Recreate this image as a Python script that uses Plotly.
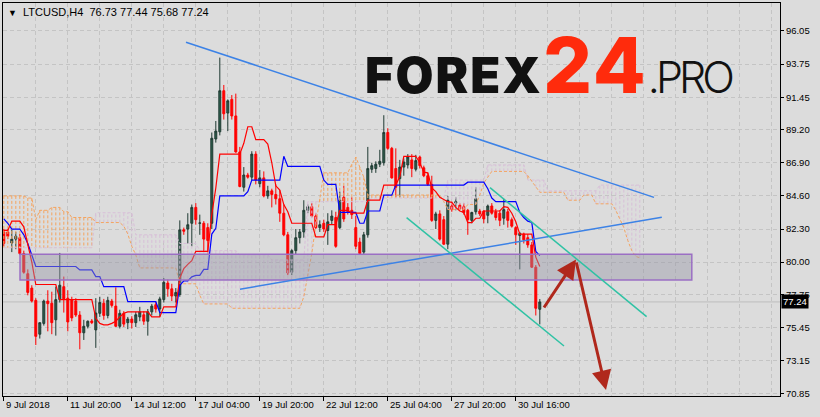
import plotly.graph_objects as go

# ---------------- data ----------------
bar_idx = list(range(135))
open_ = [82.10, 82.10, 81.33, 81.60, 81.70, 80.60, 79.20, 78.20, 77.35, 75.00,
         75.75, 77.30, 77.15, 76.00, 77.40, 78.30, 77.50, 77.40, 77.30, 76.33,
         75.10, 75.55, 75.92, 75.30, 76.45, 77.15, 76.30, 77.30, 76.95, 75.55,
         76.45, 75.80, 76.05, 75.80, 76.20, 76.35, 75.90, 76.55, 77.05, 76.75,
         77.40, 78.55, 78.15, 77.65, 77.75, 82.25, 82.30, 82.70, 83.80, 82.70,
         82.70, 82.40, 82.70, 88.55, 89.05, 91.90, 90.35, 91.30, 90.15, 87.65,
         85.20, 86.05, 85.90, 87.50, 85.45, 85.85, 84.60, 84.95, 84.70, 84.40,
         83.40, 81.90, 79.30, 80.80, 81.70, 82.10, 83.60, 83.85, 83.20, 82.40,
         82.70, 82.20, 82.90, 83.10, 82.40, 84.50, 83.80, 83.60, 82.40, 81.40,
         80.70, 81.90, 86.45, 86.50, 86.80, 86.90, 89.00, 87.90, 86.50, 85.80,
         86.60, 86.75, 87.10, 86.45, 87.30, 86.55, 86.00, 85.40, 82.90, 83.35,
         82.95, 81.25, 83.90, 84.10, 83.95, 83.85, 83.60, 82.90, 83.50, 83.55,
         83.55, 83.25, 83.90, 83.50, 83.40, 83.05, 83.50, 82.95, 82.40, 81.85,
         81.95, 81.70, 81.20, 79.65, 76.73]
high = [82.30, 82.30, 82.24, 82.10, 81.95, 80.80, 79.50, 78.40, 77.50, 75.80,
        77.40, 78.05, 77.95, 78.30, 80.64, 79.00, 78.05, 77.60, 77.50, 76.60,
        76.00, 75.95, 76.05, 77.50, 77.60, 77.45, 77.60, 77.45, 78.25, 76.70,
        76.60, 76.20, 76.25, 76.55, 76.90, 76.60, 76.75, 77.10, 77.25, 77.60,
        78.90, 78.80, 78.50, 78.20, 82.90, 82.40, 83.40, 84.00, 84.10, 83.30,
        82.85, 82.70, 89.00, 89.80, 94.20, 92.30, 91.30, 91.60, 91.70, 88.00,
        86.60, 86.20, 87.70, 87.70, 86.40, 86.30, 85.30, 85.10, 85.40, 85.00,
        84.00, 82.10, 80.90, 82.30, 82.30, 84.30, 84.00, 84.10, 83.40, 82.90,
        82.95, 83.40, 83.60, 83.50, 84.90, 85.30, 84.10, 84.50, 83.20, 81.70,
        82.10, 88.00, 86.90, 87.00, 87.80, 90.20, 89.30, 88.00, 87.90, 87.10,
        87.20, 87.50, 87.50, 87.45, 87.40, 86.70, 86.20, 86.00, 83.50, 83.60,
        83.20, 84.60, 84.20, 84.50, 84.10, 84.10, 83.70, 83.50, 85.20, 83.70,
        83.60, 84.00, 84.10, 83.70, 83.60, 84.40, 83.70, 83.10, 82.50, 82.10,
        82.05, 81.95, 81.40, 79.80, 77.44]
low = [81.10, 81.60, 80.70, 80.90, 80.50, 79.20, 77.70, 77.20, 74.25, 74.70,
       75.60, 75.20, 75.00, 74.90, 77.20, 76.50, 75.20, 75.90, 76.20, 73.95,
       74.60, 75.40, 75.70, 74.05, 76.20, 76.00, 76.10, 76.85, 75.50, 75.40,
       75.50, 75.35, 75.40, 75.50, 75.90, 75.65, 74.90, 76.30, 76.50, 76.20,
       77.20, 77.60, 77.30, 77.20, 77.60, 81.90, 81.30, 81.10, 82.60, 81.90,
       80.70, 80.50, 82.30, 88.30, 88.80, 89.90, 89.10, 89.90, 87.60, 85.20,
       84.90, 85.80, 85.70, 85.40, 85.20, 84.50, 84.40, 83.80, 84.00, 82.80,
       81.80, 79.10, 79.10, 80.50, 81.30, 81.70, 83.40, 83.10, 82.30, 82.10,
       82.10, 81.20, 82.60, 81.00, 82.30, 82.80, 83.30, 83.00, 80.90, 80.50,
       80.50, 81.70, 86.20, 86.20, 86.60, 86.70, 87.80, 85.80, 84.50, 84.50,
       86.00, 86.50, 85.90, 86.30, 86.50, 85.90, 85.30, 82.80, 82.30, 81.50,
       81.20, 80.90, 83.50, 83.60, 83.60, 83.30, 81.90, 82.70, 83.30, 83.20,
       82.70, 82.70, 83.30, 82.90, 82.50, 82.60, 82.40, 82.40, 81.20, 79.50,
       81.30, 81.00, 79.60, 76.30, 75.68]
close = [81.30, 81.80, 81.60, 81.80, 80.60, 79.30, 77.90, 77.30, 74.85, 75.80,
         77.30, 77.12, 75.80, 77.40, 78.40, 77.45, 75.85, 76.13, 76.33, 75.10,
         75.55, 75.90, 75.80, 76.47, 77.20, 76.30, 77.35, 77.00, 75.55, 76.45,
         75.70, 76.05, 75.80, 76.35, 76.55, 75.90, 76.55, 76.95, 76.75, 77.45,
         78.60, 78.15, 77.65, 77.90, 82.24, 82.15, 82.60, 83.80, 82.95, 82.72,
         81.60, 81.50, 88.60, 89.10, 91.90, 90.30, 91.20, 90.15, 87.65, 85.25,
         86.05, 85.90, 87.50, 85.70, 85.85, 84.60, 84.95, 84.70, 84.40, 83.40,
         81.90, 79.25, 80.80, 81.70, 82.10, 83.60, 83.85, 83.20, 82.40, 82.60,
         82.30, 82.80, 83.20, 81.10, 84.30, 83.00, 83.50, 83.30, 81.10, 80.60,
         81.90, 86.50, 86.70, 86.80, 87.00, 89.00, 87.90, 85.85, 85.20, 86.60,
         86.95, 87.30, 86.50, 87.05, 86.70, 86.00, 85.40, 82.90, 83.35, 81.60,
         81.25, 84.30, 83.65, 84.20, 83.70, 83.45, 82.95, 83.45, 84.40, 83.35,
         83.00, 83.90, 83.40, 83.10, 82.90, 83.65, 82.90, 82.50, 81.90, 82.00,
         81.55, 81.20, 79.65, 76.80, 77.24]

# Ichimoku lines (red = Tenkan, blue = Kijun)
tenkan = [82.2, 82.2, 82.85, 82.85, 82.85, 82.45, 81.3, 80.0,
          78.45, 78.45, 78.45, 78.45, 78.45, 78.45,
          77.4, 77.4, 77.4, 77.4, 77.4, 77.4, 77.4, 77.4, 77.4,
          76.1, 75.75, 75.65, 75.65, 75.75, 75.9, 76.2, 76.45,
          76.55, 76.55, 76.55, 76.55, 76.55, 76.55, 76.2, 76.2, 76.2,
          76.9, 76.9, 76.9, 76.9, 78.9, 79.55, 79.85, 80.1,
          80.75, 80.75, 80.75, 80.75, 83.3, 85.15,
          87.5, 87.5, 87.5, 87.5, 87.5, 87.5, 88.25, 89.4, 89.4,
          88.5, 88.5, 88.5, 88.2, 86.9, 85.3, 85.0, 84.0, 83.5,
          82.7, 82.7, 82.7, 82.7, 82.7, 82.7, 81.75, 81.75, 81.75,
          82.6, 82.6, 82.6, 83.6, 83.6, 83.6, 83.4, 83.4, 83.4, 83.4,
          84.3, 84.3, 84.3, 84.3, 85.35, 85.35, 85.35, 85.35, 85.95,
          87.35, 87.35, 87.35, 87.35, 86.9, 86.25, 86.2, 85.15, 84.9,
          84.5, 84.35, 84.2, 84.15, 83.8, 83.55, 83.45, 82.75, 82.75,
          83.05, 83.05, 83.55, 83.55, 83.55, 83.55, 83.55, 83.85, 83.8,
          83.4, 82.8, 81.95, 81.95, 81.95, 81.95, 80.35, 79.7]
kijun = [83.0, 82.7, 82.3, 82.3, 82.3, 81.9, 81.3, 80.5,
         79.7, 79.7, 79.7, 79.7, 79.7, 79.7, 79.7, 79.7, 79.7, 79.7, 79.7,
         79.46, 79.46, 79.46, 79.46, 79.0, 79.0,
         78.3, 78.3, 78.3, 78.3, 78.3, 78.3,
         77.26, 77.26, 77.26, 77.26, 77.26, 77.26, 77.26, 77.26,
         76.5, 76.5, 76.5, 76.5, 76.5, 78.4, 78.7, 78.7, 78.98, 79.08, 79.08,
         79.5, 79.5, 81.95, 82.35, 84.6, 84.6, 84.6, 84.6, 84.6, 84.6, 84.6,
         84.9, 85.7, 85.7, 85.7, 85.7, 85.7, 85.7, 85.7, 85.7, 87.35,
         86.65, 86.65, 86.65, 86.65, 86.65, 86.65, 86.65, 86.65, 86.65,
         85.7, 85.4, 85.4, 85.4, 83.45, 83.45, 83.45, 83.45, 83.45, 82.7, 82.7,
         83.55, 83.55, 83.55, 83.55, 84.65, 84.65, 84.65,
         85.35, 85.35, 85.35, 85.35, 85.35, 85.35, 85.35, 85.35, 85.35,
         85.35, 85.35, 85.35, 85.35, 85.35, 85.35, 85.35, 85.35, 85.35,
         85.55, 85.55, 85.55, 85.55, 85.55, 85.1, 84.45,
         84.2, 84.2, 84.2, 84.2, 84.2, 84.2, 83.45, 83.1, 82.85, 82.75,
         80.75, 80.45]

# Senkou spans (cloud), shifted 26 bars ahead of price
cloud_idx = list(range(160))
span_a = ([84.6] * 6 + [84.45] * 2 + [82.95] + [83.6] * 3 + [83.8] * 3 + [83.5] * 2 +
          [83.1] * 6 + [82.75] * 7 + [82.5, 81.95, 81.1, 80.5] + [79.6] * 10 +
          [78.5] * 5 + [77.7] + [77.1] * 7 + [76.8] * 18 +
          [77.6, 79.0, 80.6, 82.6, 84.4] + [86.2] * 7 + [86.8, 87.3, 86.6, 85.9] +
          [84.66] * 19 + [84.2] + [83.65] * 5 + [84.0] * 3 + [84.66, 85.5, 85.9] +
          [86.3] * 9 + [86.0, 85.6, 85.2] + [84.85] * 7 + [84.3] * 4 +
          [84.66] * 3 + [84.05] * 5 + [83.6, 83.0, 82.4, 81.5, 80.8, 80.4, 80.3])
span_b = ([81.0] * 23 + [83.43] * 10 + [81.9] * 11 + [81.3] * 5 + [80.8] * 10 +
          [80.5] * 8 + [80.15] * 9 + [84.2] * 16 + [84.45] * 19 + [85.7] * 10 +
          [86.75] * 10 + [85.7] * 5 + [84.95] * 13 + [85.35] * 11)

# axis labels
x_tick_idx = [0, 16, 32, 48, 64, 80, 96, 112, 128]
x_tick_text = ["9 Jul 2018", "11 Jul 20:00", "14 Jul 12:00", "17 Jul 04:00",
               "19 Jul 20:00", "22 Jul 12:00", "25 Jul 04:00", "27 Jul 20:00",
               "30 Jul 16:00"]
x_grid_idx = list(range(0, 193, 8))
y_ticks = [70.85, 73.15, 75.45, 77.75, 80.00, 82.30, 84.60, 86.90, 89.20,
           91.45, 93.75, 96.05]
last_price = 77.24

# drawn objects (bar index, price)
zone = dict(i0=4.05, i1=172.0, p0=78.76, p1=80.55)
blue_lines = [((45.55, 95.27), (162.55, 84.50)), ((59.05, 78.12), (164.5, 83.12))]
teal_lines = [((121.55, 85.17), (160.7, 76.22)), ((100.7, 83.09), (140.05, 74.18))]
arrows = [((134.8, 76.75), (143.05, 80.19)), ((143.05, 80.08), (150.55, 71.13))]

# ---------------- figure ----------------
FONT = "Liberation Sans"
BG = "#dcdcdc"
ORANGE = "#f4a460"
THISTLE = "#d8bfd8"

fig = go.Figure()

# cloud hatching (vertical dotted bars between the spans)
ox, oy, tx, ty = [], [], [], []
for i, a, b in zip(cloud_idx, span_a, span_b):
    if a >= b:
        ox += [i, i, None]; oy += [a, b, None]
    else:
        tx += [i, i, None]; ty += [a, b, None]
fig.add_trace(go.Scatter(x=tx, y=ty, mode="lines", hoverinfo="skip",
                         line=dict(color=THISTLE, width=1, dash="3px,2px")))
fig.add_trace(go.Scatter(x=ox, y=oy, mode="lines", hoverinfo="skip",
                         line=dict(color=ORANGE, width=1, dash="3px,2px")))
fig.add_trace(go.Scatter(x=cloud_idx, y=span_b, mode="lines", hoverinfo="skip",
                         line=dict(color=THISTLE, width=1, dash="3px,2px")))
fig.add_trace(go.Scatter(x=cloud_idx, y=span_a, mode="lines", hoverinfo="skip",
                         line=dict(color=ORANGE, width=1, dash="3px,2px")))

fig.add_trace(go.Candlestick(
    x=bar_idx, open=open_, high=high, low=low, close=close,
    increasing=dict(line=dict(color="#1f3a32", width=1), fillcolor="#2e5e4c"),
    decreasing=dict(line=dict(color="#ff0000", width=1), fillcolor="#ff0000"),
    whiskerwidth=0, hoverinfo="skip"))

fig.add_trace(go.Scatter(x=bar_idx, y=kijun, mode="lines", hoverinfo="skip",
                         line=dict(color="#0000ff", width=1.2)))
fig.add_trace(go.Scatter(x=bar_idx, y=tenkan, mode="lines", hoverinfo="skip",
                         line=dict(color="#ff0000", width=1.2)))

shapes = [
    dict(type="line", xref="paper", x0=0, x1=1, yref="y", y0=last_price, y1=last_price,
         line=dict(color="#bdbdbd", width=1), layer="below"),
    dict(type="rect", xref="x", yref="y", x0=zone["i0"], x1=zone["i1"],
         y0=zone["p0"], y1=zone["p1"], fillcolor="rgba(150,150,166,0.45)",
         line=dict(color="#9b6fc4", width=1.5), layer="above"),
]
for (a, b) in blue_lines:
    shapes.append(dict(type="line", xref="x", yref="y", x0=a[0], y0=a[1], x1=b[0], y1=b[1],
                       line=dict(color="#3c82e6", width=1.5), layer="above"))
for (a, b) in teal_lines:
    shapes.append(dict(type="line", xref="x", yref="y", x0=a[0], y0=a[1], x1=b[0], y1=b[1],
                       line=dict(color="#2fc2a4", width=1.5), layer="above"))

annotations = []
for (a, b) in arrows:
    annotations.append(dict(x=b[0], y=b[1], ax=a[0], ay=a[1], xref="x", yref="y",
                            axref="x", ayref="y", text="", showarrow=True,
                            arrowhead=2, arrowsize=1.3, arrowwidth=3,
                            arrowcolor="#b0281c", standoff=0))
for idx, lab in zip(x_tick_idx, x_tick_text):
    annotations.append(dict(x=idx, y=0, xref="x", yref="paper", text=lab,
                            showarrow=False, xanchor="left", yanchor="top",
                            xshift=0, yshift=-1,
                            font=dict(family=FONT, size=9.5, color="#000")))
annotations.append(dict(x=1, y=last_price, xref="paper", yref="y",
                        text=f"{last_price:.2f}", showarrow=False, xanchor="left",
                        yanchor="middle", xshift=1, bgcolor="#000000", borderpad=1,
                        font=dict(family=FONT, size=9.5, color="#ffffff")))
annotations.append(dict(x=0, y=1, xref="paper", yref="paper",
                        text="<span style='font-size:9px'>▼</span>  LTCUSD,H4  76.73 77.44 75.68 77.24",
                        showarrow=False, xanchor="left", yanchor="top", xshift=3, yshift=-1,
                        font=dict(family=FONT, size=11, color="#000")))
annotations.append(dict(
    x=(363 - 3) / 777, y=(396 - 92) / 393, xref="paper", yref="paper",
    xanchor="left", yanchor="bottom", showarrow=False, yshift=-22,
    text=("<span style='font-weight:900;letter-spacing:2px'>FOREX</span>"
          "<span style='color:#ff2b0c;font-size:77px;font-weight:800;letter-spacing:2px'>24</span>"
          "<span style='font-weight:300;font-size:43px;letter-spacing:-4px'>.PRO</span>"),
    font=dict(family="Inter", size=49, color="#111111")))

fig.update_layout(
    width=820, height=417,
    margin=dict(l=3, r=40, t=3, b=21),
    paper_bgcolor=BG, plot_bgcolor=BG,
    showlegend=False,
    shapes=shapes, annotations=annotations,
    xaxis=dict(range=[-0.2, 194.05], rangeslider=dict(visible=False),
               tickmode="array", tickvals=x_grid_idx, ticktext=[""] * len(x_grid_idx),
               ticks="", showgrid=True, gridcolor="#c4c4c4", griddash="4px,3px",
               gridwidth=1, showline=True, linecolor="#000", linewidth=1, mirror=True,
               zeroline=False,
               minor=dict(tickmode="array", tickvals=x_tick_idx, ticks="outside",
                          ticklen=4, tickcolor="#000", showgrid=False)),
    yaxis=dict(range=[70.71, 97.99], side="right", tickmode="array",
               tickvals=y_ticks, ticktext=[f"{v:.2f}" for v in y_ticks],
               ticks="outside", ticklen=3, tickcolor="#000",
               tickfont=dict(family=FONT, size=9.5, color="#000"),
               showgrid=True, gridcolor="#c4c4c4", griddash="4px,3px", gridwidth=1,
               showline=True, linecolor="#000", linewidth=1, mirror=True,
               zeroline=False),
)

fig.write_html("out.html", config={"displayModeBar": False},
               post_script="document.body.style.margin='0px';")
